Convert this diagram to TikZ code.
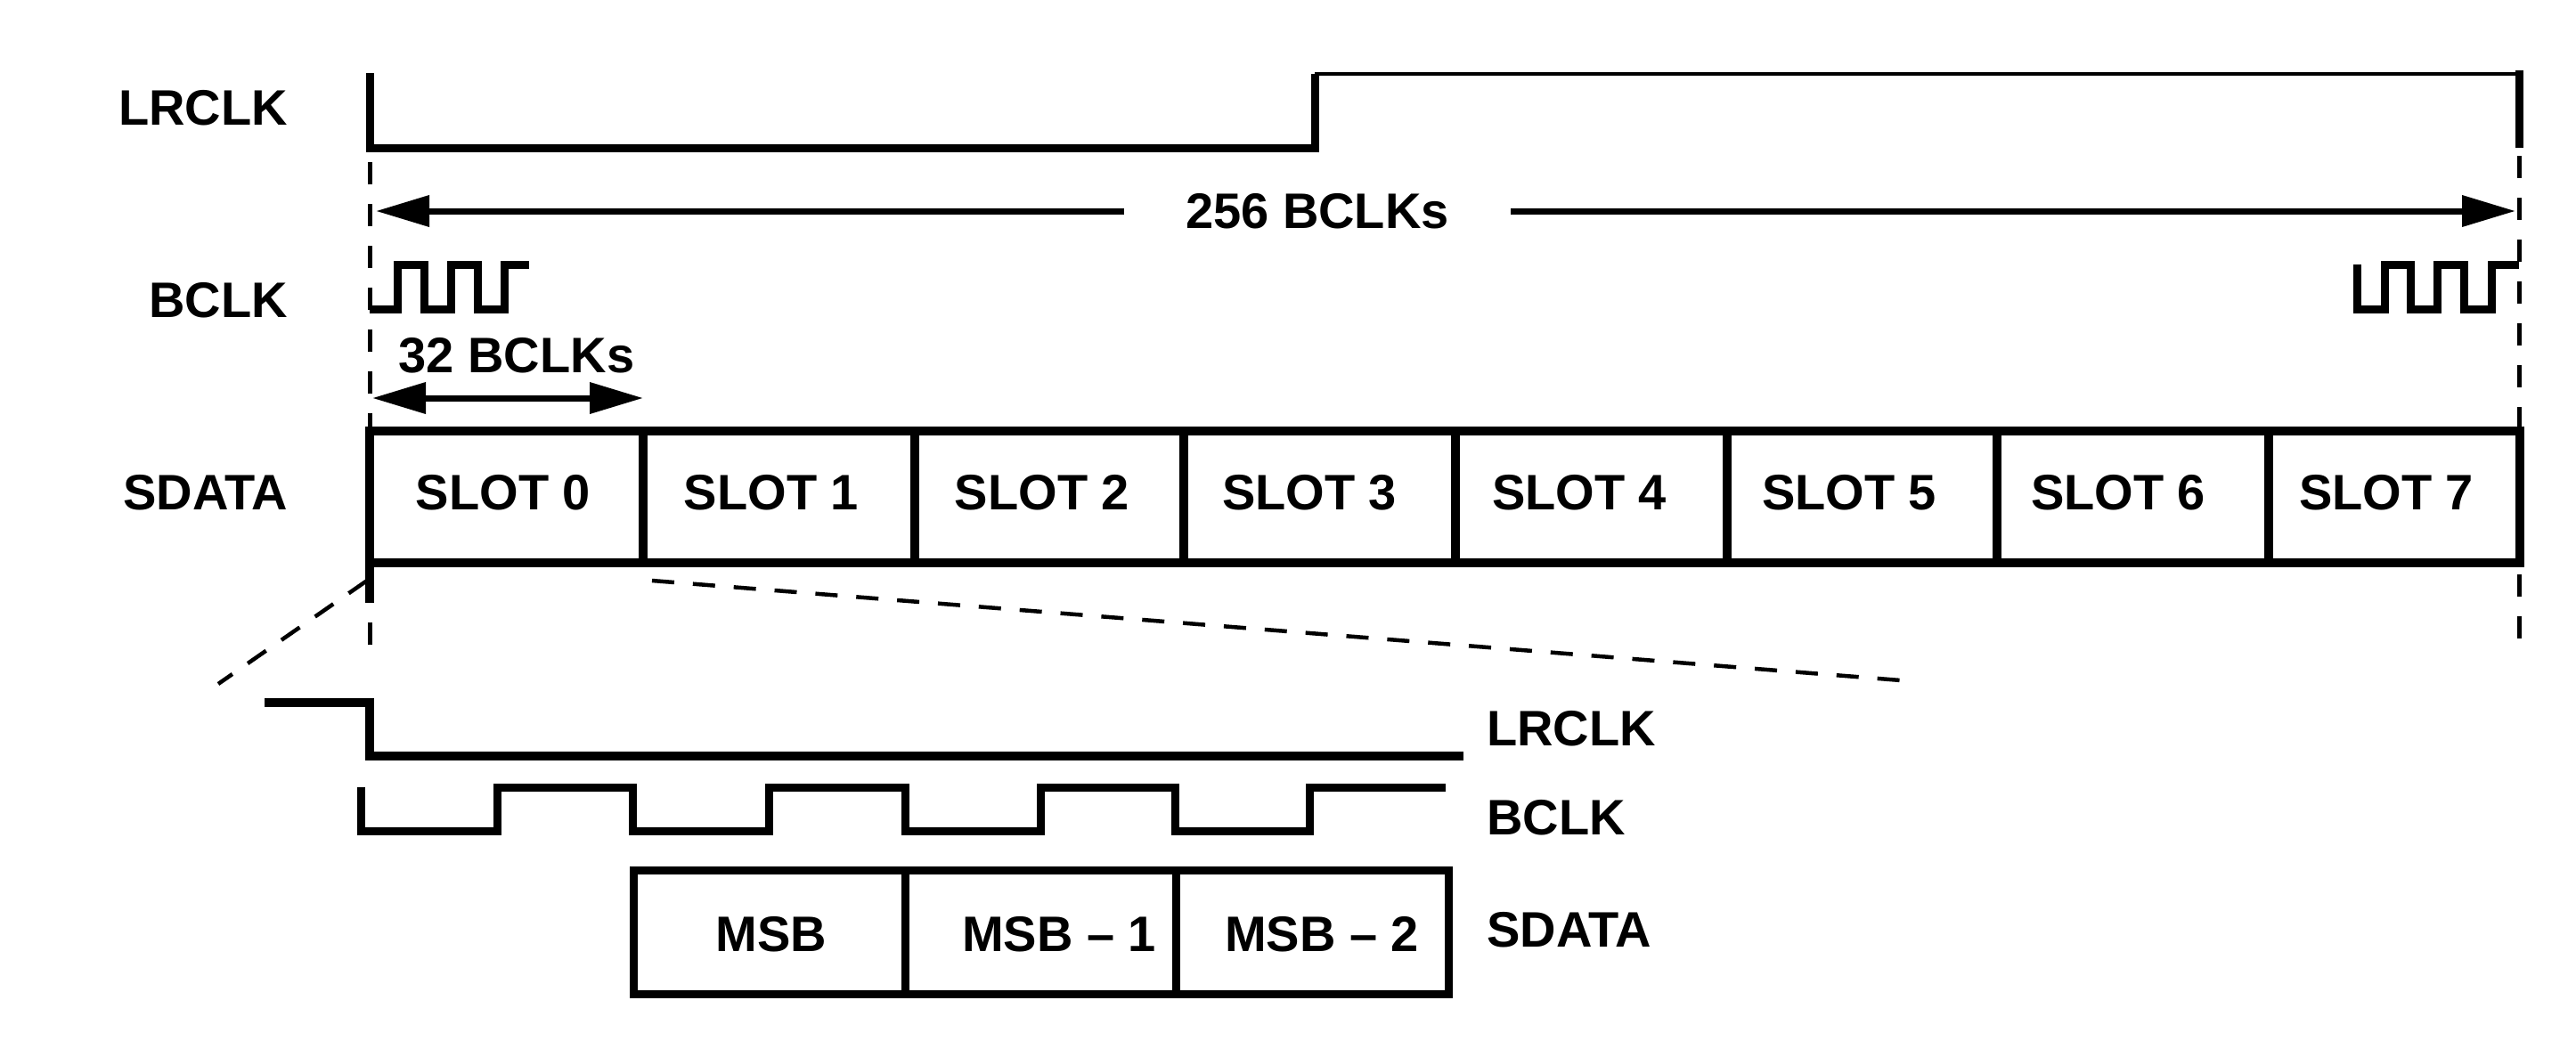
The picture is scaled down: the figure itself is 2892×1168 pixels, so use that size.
\documentclass[tikz,border=0pt]{standalone}
\usepackage{fontspec}
\setmainfont{Liberation Sans}
\usetikzlibrary{arrows.meta}
\begin{document}
\begin{tikzpicture}[x=1pt,y=-1pt,
  lab/.style={font=\fontsize{56}{60}\selectfont\bfseries, inner sep=0pt},
  wave/.style={line width=9pt, line join=miter},
  thinwave/.style={line width=3.5pt},
  guide/.style={line width=5pt, dash pattern=on 25pt off 22pt},
  zoomline/.style={line width=4.5pt, dash pattern=on 25pt off 21pt},
  boxline/.style={line width=10pt, line join=miter},
  tipend/.style={-{Triangle[length=60pt,width=34pt]}, line width=7pt},
  tipboth/.style={{Triangle[length=60pt,width=34pt]}-{Triangle[length=60pt,width=34pt]}, line width=7pt}]
\useasboundingbox (0,0) rectangle (2892,1168);

% ---- left labels
\node[lab, anchor=east] (lLR) at (323,121) {LRCLK};
\node[lab, anchor=east] (lBC) at (323,337) {BCLK};
\node[lab, anchor=east] (lSD) at (323,553) {SDATA};

% ---- guide dashed verticals
\coordinate (gL1) at (415,182);
\coordinate (gL2) at (415,729);
\coordinate (gR1) at (2828,175);
\coordinate (gR2) at (2828,722);
\draw[guide] (gL1) -- (gL2);
\draw[guide] (gR1) -- (gR2);

% ---- upper LRCLK
\draw[wave] (415,82) -- (415,166) -- (1476,166) -- (1476,83);
\draw[thinwave] (1476,83) -- (2828,83);
\draw[wave] (2828,79) -- (2828,166);

% ---- 256 BCLKs arrow
\node[lab, inner xsep=69pt] (t256) at (1479,237) {256 BCLKs};
\coordinate (a256L) at (422,237);
\coordinate (a256R) at (2824,237);
\draw[tipend] (t256) -- (a256L);
\draw[tipend] (t256) -- (a256R);

% ---- upper BCLK snippets
\draw[wave] (415,347) -- (446,347) -- (446,297) -- (476,297) -- (476,347) -- (506,347)
  -- (506,297) -- (536,297) -- (536,347) -- (566,347) -- (566,297) -- (594,297);
\draw[wave] (2646,297) -- (2646,347) -- (2677,347) -- (2677,297) -- (2706,297) -- (2706,347)
  -- (2736,347) -- (2736,297) -- (2766,297) -- (2766,347) -- (2797,347) -- (2797,297) -- (2828,297);

% ---- 32 BCLKs arrow
\node[lab] (t32) at (580,399) {32 BCLKs};
\coordinate (a32L) at (418,447);
\coordinate (a32R) at (722,447);
\draw[tipboth] (a32L) -- (a32R);

% ---- slots
\draw[boxline] (415,484) rectangle (2829,632);
\foreach \xx in {722,1027,1329,1634,1939,2242,2547}
  \draw[boxline] (\xx,484) -- (\xx,632);
\draw[boxline] (415,632) -- (415,677);
\node[lab] (s0) at (565,553) {SLOT 0};
\node[lab] (s1) at (866,553) {SLOT 1};
\node[lab] (s2) at (1170,553) {SLOT 2};
\node[lab] (s3) at (1470,553) {SLOT 3};
\node[lab] (s4) at (1773,553) {SLOT 4};
\node[lab] (s5) at (2076,553) {SLOT 5};
\node[lab] (s6) at (2378,553) {SLOT 6};
\node[lab] (s7) at (2679,553) {SLOT 7};

% ---- zoom dashed lines
\coordinate (zL1) at (412,652);
\coordinate (zL2) at (245,768);
\coordinate (zR1) at (732,652);
\coordinate (zR2) at (2134,764);
\draw[zoomline] (zL1) -- (zL2);
\draw[zoomline] (zR1) -- (zR2);

% ---- lower LRCLK
\draw[line width=10pt, line join=miter] (297,789) -- (415,789) -- (415,849) -- (1643,849);
\node[lab, anchor=west] (bLR) at (1669,818) {LRCLK};

% ---- lower BCLK
\draw[wave] (405,884) -- (405,933) -- (558,933) -- (558,884) -- (710,884) -- (710,933)
  -- (863,933) -- (863,884) -- (1016,884) -- (1016,933) -- (1168,933) -- (1168,884)
  -- (1319,884) -- (1319,933) -- (1470,933) -- (1470,884) -- (1623,884);
\node[lab, anchor=west] (bBC) at (1669,918) {BCLK};

% ---- lower SDATA
\draw[line width=9pt, line join=miter] (711,977) rectangle (1626,1116);
\draw[line width=9pt] (1016,977) -- (1016,1116);
\draw[line width=9pt] (1320,977) -- (1320,1116);
\node[lab] (m0) at (866,1049) {MSB};
\node[lab] (m1) at (1189,1049) {MSB – 1};
\node[lab] (m2) at (1484,1049) {MSB – 2};
\node[lab, anchor=west] (bSD) at (1669,1044) {SDATA};
\end{tikzpicture}
\end{document}
